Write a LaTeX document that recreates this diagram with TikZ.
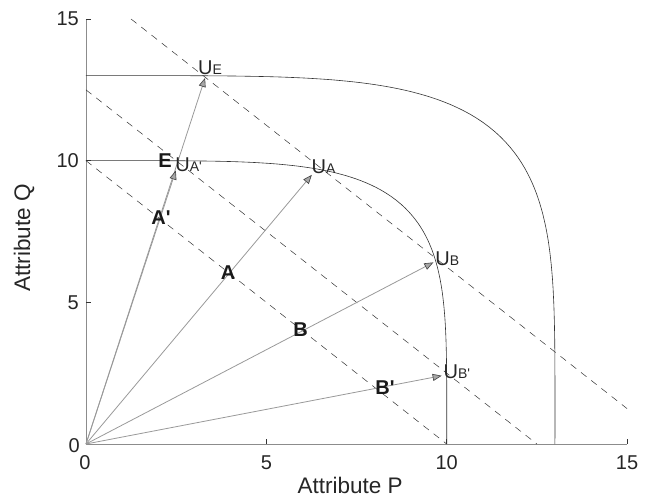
\documentclass[tikz,border=0pt]{standalone}
\usepackage{fontspec}
\setmainfont{Liberation Sans}
\usetikzlibrary{arrows.meta}
\newcommand\usub[1]{{\fontsize{14}{14}\selectfont #1}}
\newcommand\prm{\textquotesingle}
\begin{document}
\begin{tikzpicture}[x=36.07pt,y=28.33pt,
 axisline/.style={draw=black!45,line width=0.9pt},
 tickmark/.style={draw=black!80,line width=0.6pt},
 ticklab/.style={font=\fontsize{20}{20}\selectfont, text=black!85, inner sep=0pt},
 axlab/.style={font=\fontsize{22.5}{22.5}\selectfont, text=black!85, inner sep=0pt},
 frontier/.style={draw=black!80,line width=0.6pt},
 isoline/.style={draw=black!80,line width=0.5pt,dash pattern=on 7pt off 6pt},
 ray/.style={draw=black!40,line width=0.8pt,-{Triangle[length=9pt,width=7pt,fill=black!35,color=black!75,line width=0.6pt]}},
 ulab/.style={font=\fontsize{20}{20}\selectfont, text=black!85, inner sep=0pt, anchor=base west},
 letter/.style={font=\bfseries\fontsize{20}{20}\selectfont, text=black!90, inner sep=0pt}
]
\useasboundingbox (-2.384,-1.906) rectangle (15.525,15.672);

% axes
\coordinate (O) at (0,0);
\coordinate (Ytop) at (0,15);
\coordinate (Xend) at (15,0);
\draw[axisline] (Ytop) -- (O) -- (Xend);
\foreach \v in {5,10,15} {
  \draw[tickmark] (\v,0) -- ++(0,5pt);
  \draw[tickmark] (0,\v) -- ++(5pt,0);
  \node[ticklab] (xt\v) at ([yshift=-18.5pt]\v,0) {\v};
  \node[ticklab, anchor=east] (yt\v) at ([xshift=-7pt]0,\v) {\v};
}
\node[ticklab] (xt0) at ([xshift=-1pt,yshift=-18.5pt]0,0) {0};
\node[ticklab, anchor=east] (yt0) at ([xshift=-6pt,yshift=-1.6pt]0,0) {0};
\node[axlab] (xlab) at (7.32,-1.48) {Attribute P};
\node[axlab, rotate=90] (ylab) at (-1.713,7.27) {Attribute Q};

% frontiers
\foreach \R in {10,13} {
  \draw[frontier] (0,\R)
    -- plot[domain=0.05:0.86,samples=60,variable=\t] ({\R*\t},{\R*(1-\t^4.6)^(0.21739)})
    -- plot[domain=0.86:0.05,samples=60,variable=\t] ({\R*(1-\t^4.6)^(0.21739)},{\R*\t})
    -- (\R,0);
}

% iso-value lines
\coordinate (d1a) at (0,10);   \coordinate (d1b) at (10,0);
\coordinate (d2a) at (0,12.5); \coordinate (d2b) at (12.5,0);
\coordinate (d3a) at (1.25,15); \coordinate (d3b) at (15,1.25);
\draw[isoline] (d1a) -- (d1b);
\draw[isoline] (d2a) -- (d2b);
\draw[isoline] (d3a) -- (d3b);

% ray targets
\coordinate (UE) at (3.30,12.92);
\coordinate (UAp) at (2.49,9.65);
\coordinate (UA) at (6.26,9.50);
\coordinate (UB) at (9.63,6.41);
\coordinate (UBp) at (9.86,2.41);
\draw[ray] (O) -- (UE);
\draw[ray] (O) -- (UAp);
\draw[ray] (O) -- (UA);
\draw[ray] (O) -- (UB);
\draw[ray] (O) -- (UBp);

% labels at the ends
\node[ulab] (lUE) at ([shift={(-7pt,3pt)}]UE) {U\usub{E}};
\node[ulab] (lUAp) at ([shift={(-0.6pt,-1.1pt)}]UAp) {U\usub{A\prm}};
\node[ulab] (lUA) at ([shift={(-0.3pt,0.9pt)}]UA) {U\usub{A}};
\node[ulab] (lUB) at ([shift={(1.8pt,-3.3pt)}]UB) {U\usub{B}};
\node[ulab] (lUBp) at ([shift={(1.8pt,-2.3pt)}]UBp) {U\usub{B\prm}};

% point labels
\node[letter] (E) at (2.19,10.0) {E};
\node[letter] (Ap) at (2.08,7.98) {A\prm};
\node[letter] (A) at (3.94,6.05) {A};
\node[letter] (B) at (5.95,4.02) {B};
\node[letter] (Bp) at (8.29,1.98) {B\prm};
\end{tikzpicture}
\end{document}
